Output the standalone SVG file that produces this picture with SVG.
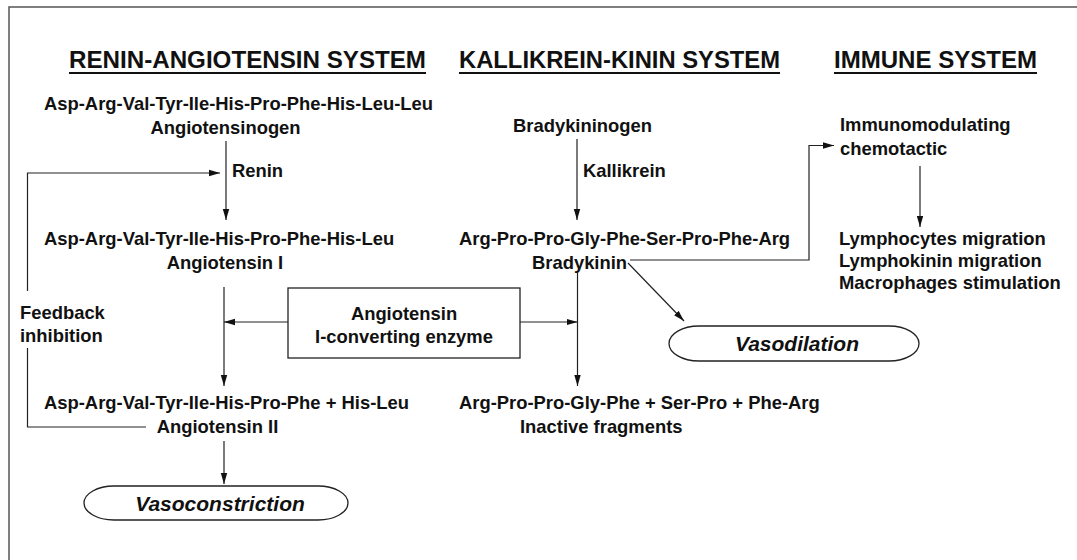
<svg xmlns="http://www.w3.org/2000/svg" width="1077" height="560" viewBox="0 0 1077 560">
<defs>
<marker id="ah" markerWidth="11" markerHeight="8" refX="11" refY="4" orient="auto" markerUnits="userSpaceOnUse">
<path d="M0,0.8 L11,4 L0,7.2 Z" fill="#111"/>
</marker>
<style>
text{font-family:"Liberation Sans",Arial,sans-serif;fill:#111}
.t{font-size:24px;font-weight:bold}
.b{font-size:18.4px;font-weight:bold}
.c{text-anchor:middle}
.i{font-size:21px;font-weight:bold;font-style:italic;text-anchor:middle}
.ln{stroke:#222;stroke-width:1.2;fill:none}
.ar{stroke:#222;stroke-width:1.2;fill:none;marker-end:url(#ah)}
.ul{stroke:#111;stroke-width:2}
.sh{fill:#fff;stroke:#222;stroke-width:1.3}
</style>
</defs>
<rect width="1077" height="560" fill="#fff"/>
<path d="M9,560 V7 H1077" fill="none" stroke="#555" stroke-width="1.5"/>

<g id="titles">
<text class="t" x="69" y="68" textLength="357" lengthAdjust="spacingAndGlyphs">RENIN-ANGIOTENSIN SYSTEM</text>
<line class="ul" x1="69" y1="73" x2="426" y2="73"/>
<text class="t" x="459" y="68" textLength="321" lengthAdjust="spacingAndGlyphs">KALLIKREIN-KININ SYSTEM</text>
<line class="ul" x1="459" y1="73" x2="780" y2="73"/>
<text class="t" x="834" y="68" textLength="203" lengthAdjust="spacingAndGlyphs">IMMUNE SYSTEM</text>
<line class="ul" x1="834" y1="73" x2="1037" y2="73"/>
</g>

<g id="angiotensinogen">
<text class="b" x="44" y="110">Asp-Arg-Val-Tyr-Ile-His-Pro-Phe-His-Leu-Leu</text>
<text class="b c" x="225.5" y="134">Angiotensinogen</text>
</g>
<g id="renin"><text class="b" x="232" y="177">Renin</text></g>
<g id="angiotensin1">
<text class="b" x="44" y="245">Asp-Arg-Val-Tyr-Ile-His-Pro-Phe-His-Leu</text>
<text class="b c" x="225" y="269">Angiotensin I</text>
</g>
<g id="feedback">
<text class="b" x="20" y="319">Feedback</text>
<text class="b" x="20" y="342">inhibition</text>
</g>
<g id="ace">
<rect x="288" y="288" width="232" height="70" fill="#fff" stroke="#222" stroke-width="1.3"/>
<text class="b c" x="404" y="320">Angiotensin</text>
<text class="b c" x="404" y="343">I-converting enzyme</text>
</g>
<g id="angiotensin2">
<text class="b" x="44" y="409">Asp-Arg-Val-Tyr-Ile-His-Pro-Phe + His-Leu</text>
<text class="b c" x="217.5" y="433">Angiotensin II</text>
</g>
<g id="vasoconstriction">
<rect class="sh" x="84" y="486" width="264" height="34" rx="30" ry="17"/>
<text class="i" x="220" y="511">Vasoconstriction</text>
</g>

<g id="bradykininogen"><text class="b" x="513" y="132">Bradykininogen</text></g>
<g id="kallikrein"><text class="b" x="583" y="177">Kallikrein</text></g>
<g id="bradykinin">
<text class="b" x="459" y="245">Arg-Pro-Pro-Gly-Phe-Ser-Pro-Phe-Arg</text>
<text class="b" x="532" y="269">Bradykinin</text>
</g>
<g id="fragments">
<text class="b" x="459" y="409">Arg-Pro-Pro-Gly-Phe + Ser-Pro + Phe-Arg</text>
<text class="b" x="520" y="433">Inactive fragments</text>
</g>
<g id="vasodilation">
<rect class="sh" x="669" y="326" width="250" height="35" rx="30" ry="17.5"/>
<text class="i" x="797" y="351">Vasodilation</text>
</g>

<g id="immuno">
<text class="b" x="840" y="131">Immunomodulating</text>
<text class="b" x="840" y="155">chemotactic</text>
</g>
<g id="immune-effects">
<text class="b" x="839" y="245">Lymphocytes migration</text>
<text class="b" x="839" y="267">Lymphokinin migration</text>
<text class="b" x="839" y="289">Macrophages stimulation</text>
</g>

<g id="connectors">
<line class="ar" x1="226" y1="141" x2="226" y2="220"/>
<path class="ln" d="M146,427 H27.5 V348"/>
<path class="ar" d="M27.5,291 V173 H220"/>
<line class="ar" x1="224" y1="287" x2="224" y2="386"/>
<line class="ar" x1="288" y1="322" x2="224" y2="322"/>
<line class="ar" x1="520" y1="322" x2="577.5" y2="322"/>
<line class="ar" x1="224" y1="441" x2="224" y2="484"/>
<line class="ar" x1="577" y1="139" x2="577" y2="220"/>
<line class="ar" x1="577.5" y1="272" x2="577.5" y2="386"/>
<path class="ar" d="M630,260 H809 V145.5 H834"/>
<line class="ar" x1="628" y1="263" x2="684" y2="321"/>
<line class="ar" x1="920" y1="166" x2="920" y2="227"/>
</g>
</svg>
